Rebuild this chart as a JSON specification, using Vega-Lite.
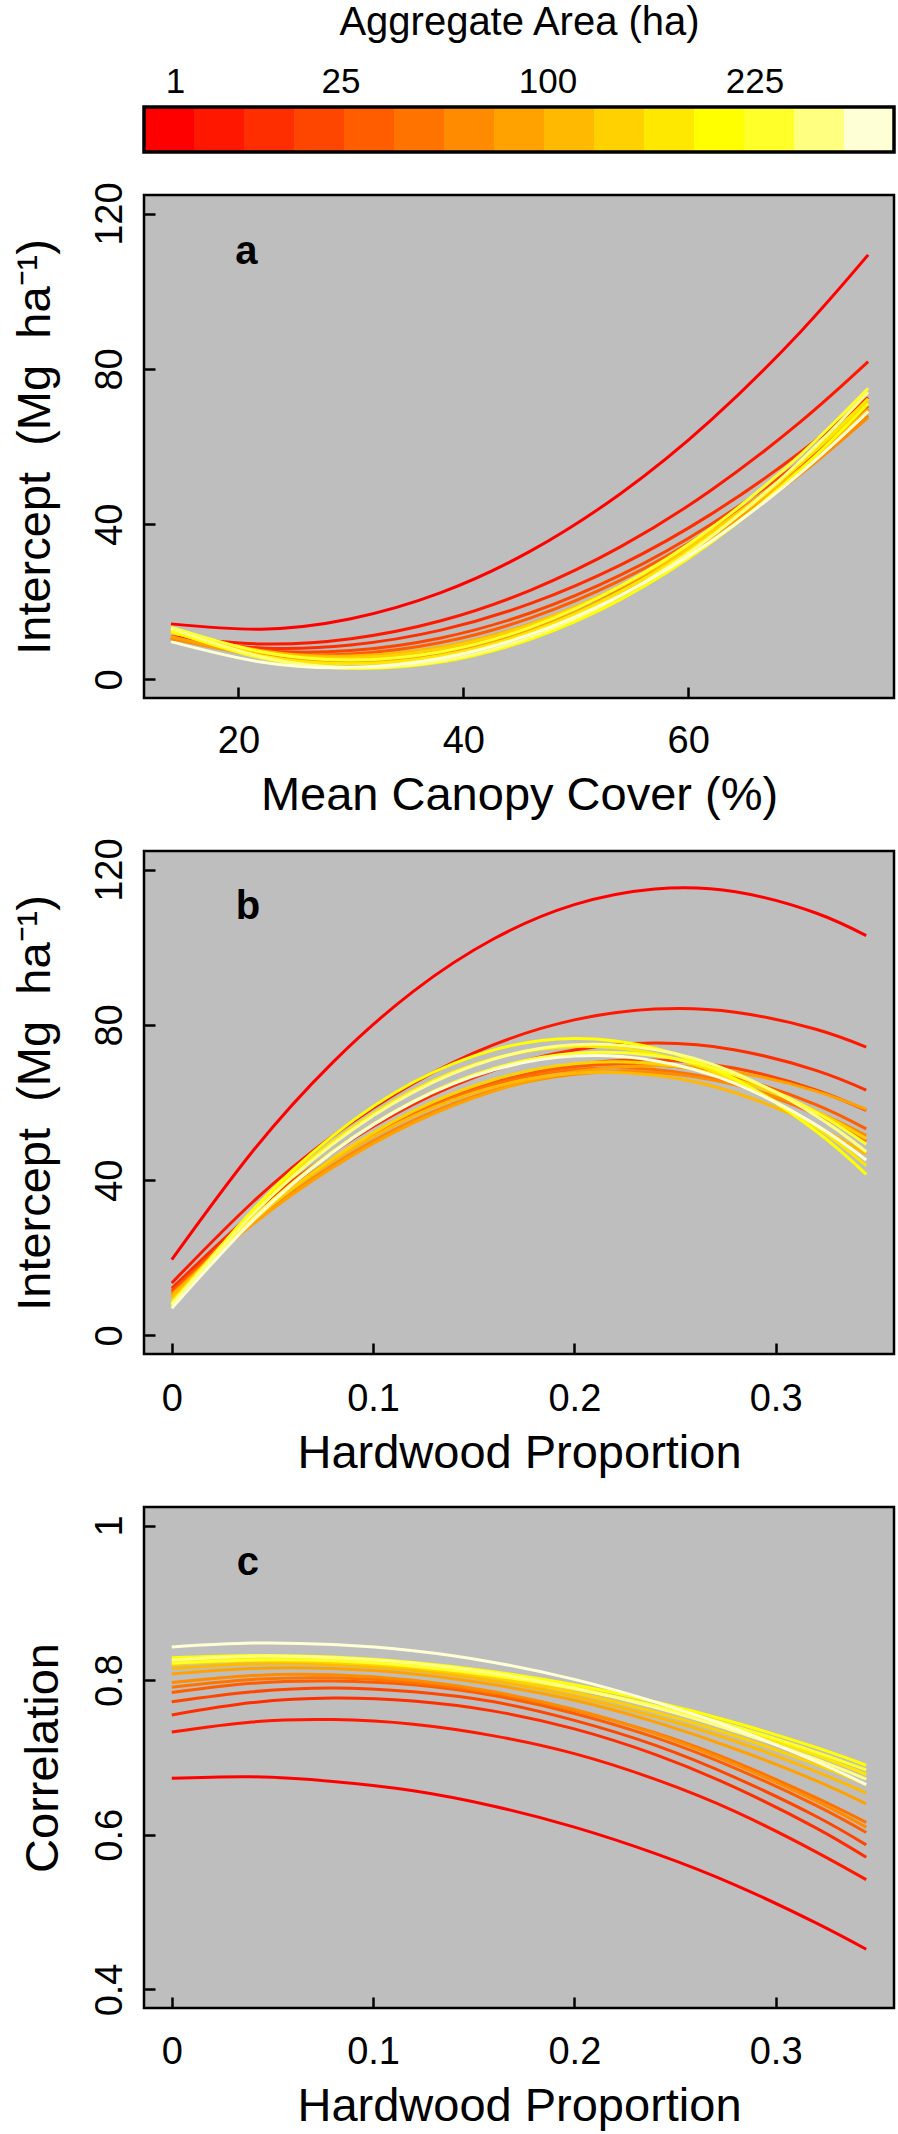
{
"$schema": "https://vega.github.io/schema/vega-lite/v6.json",
"padding": {"left": 9, "top": 2, "right": 6, "bottom": 10},
"background": "white",
"bounds": "flush",
"spacing": 43,
"config": {
 "font": "Liberation Sans",
 "axis": {"labelFont": "Liberation Sans", "titleFont": "Liberation Sans", "labelFontSize": 38, "titleFontSize": 47, "titleFontWeight": "normal", "labelColor": "black", "titleColor": "black", "tickColor": "black", "tickWidth": 2.5, "tickSize": -11, "domain": false, "grid": false, "labelOverlap": false, "labelFlush": false}
},
"datasets": {
 "leg": [
  {"g":1,"area":1},{"g":2,"area":4},{"g":3,"area":9},{"g":4,"area":16},{"g":5,"area":25},{"g":6,"area":36},{"g":7,"area":49},{"g":8,"area":64},{"g":9,"area":81},{"g":10,"area":100},{"g":11,"area":121},{"g":12,"area":144},{"g":13,"area":169},{"g":14,"area":196},{"g":15,"area":225}
 ],
 "pa": [
  {"g":1,"x":14,"y":14.30},{"g":1,"x":22,"y":12.94},{"g":1,"x":30,"y":15.63},{"g":1,"x":38,"y":22.35},{"g":1,"x":46,"y":33.10},{"g":1,"x":54,"y":47.89},{"g":1,"x":62,"y":66.72},{"g":1,"x":70,"y":89.59},{"g":1,"x":76,"y":109.38},
  {"g":2,"x":14,"y":11.06},{"g":2,"x":22,"y":9.13},{"g":2,"x":30,"y":10.48},{"g":2,"x":38,"y":15.11},{"g":2,"x":46,"y":23.02},{"g":2,"x":54,"y":34.20},{"g":2,"x":62,"y":48.66},{"g":2,"x":70,"y":66.39},{"g":2,"x":76,"y":81.85},
  {"g":3,"x":14,"y":10.39},{"g":3,"x":22,"y":8.10},{"g":3,"x":30,"y":8.86},{"g":3,"x":38,"y":12.68},{"g":3,"x":46,"y":19.57},{"g":3,"x":54,"y":29.51},{"g":3,"x":62,"y":42.51},{"g":3,"x":70,"y":58.57},{"g":3,"x":76,"y":72.63},
  {"g":4,"x":14,"y":10.66},{"g":4,"x":22,"y":7.41},{"g":4,"x":30,"y":7.41},{"g":4,"x":38,"y":10.66},{"g":4,"x":46,"y":17.16},{"g":4,"x":54,"y":26.91},{"g":4,"x":62,"y":39.92},{"g":4,"x":70,"y":56.17},{"g":4,"x":76,"y":70.50},
  {"g":5,"x":14,"y":10.76},{"g":5,"x":22,"y":6.96},{"g":5,"x":30,"y":6.54},{"g":5,"x":38,"y":9.49},{"g":5,"x":46,"y":15.83},{"g":5,"x":54,"y":25.55},{"g":5,"x":62,"y":38.64},{"g":5,"x":70,"y":55.11},{"g":5,"x":76,"y":69.69},
  {"g":6,"x":14,"y":10.81},{"g":6,"x":22,"y":6.48},{"g":6,"x":30,"y":5.61},{"g":6,"x":38,"y":8.21},{"g":6,"x":46,"y":14.28},{"g":6,"x":54,"y":23.82},{"g":6,"x":62,"y":36.83},{"g":6,"x":70,"y":53.30},{"g":6,"x":76,"y":67.94},
  {"g":7,"x":14,"y":10.50},{"g":7,"x":22,"y":6.17},{"g":7,"x":30,"y":5.31},{"g":7,"x":38,"y":7.90},{"g":7,"x":46,"y":13.96},{"g":7,"x":54,"y":23.48},{"g":7,"x":62,"y":36.46},{"g":7,"x":70,"y":52.90},{"g":7,"x":76,"y":67.50},
  {"g":8,"x":14,"y":11.05},{"g":8,"x":22,"y":5.93},{"g":8,"x":30,"y":4.53},{"g":8,"x":38,"y":6.86},{"g":8,"x":46,"y":12.91},{"g":8,"x":54,"y":22.69},{"g":8,"x":62,"y":36.19},{"g":8,"x":70,"y":53.42},{"g":8,"x":76,"y":68.78},
  {"g":9,"x":14,"y":12.47},{"g":9,"x":22,"y":7.41},{"g":9,"x":30,"y":6.03},{"g":9,"x":38,"y":8.33},{"g":9,"x":46,"y":14.31},{"g":9,"x":54,"y":23.97},{"g":9,"x":62,"y":37.31},{"g":9,"x":70,"y":54.33},{"g":9,"x":76,"y":69.51},
  {"g":10,"x":14,"y":12.21},{"g":10,"x":22,"y":6.96},{"g":10,"x":30,"y":5.53},{"g":10,"x":38,"y":7.92},{"g":10,"x":46,"y":14.12},{"g":10,"x":54,"y":24.14},{"g":10,"x":62,"y":37.98},{"g":10,"x":70,"y":55.64},{"g":10,"x":76,"y":71.40},
  {"g":11,"x":14,"y":12.26},{"g":11,"x":22,"y":6.07},{"g":11,"x":30,"y":4.00},{"g":11,"x":38,"y":6.07},{"g":11,"x":46,"y":12.26},{"g":11,"x":54,"y":22.59},{"g":11,"x":62,"y":37.05},{"g":11,"x":70,"y":55.65},{"g":11,"x":76,"y":72.30},
  {"g":12,"x":14,"y":12.53},{"g":12,"x":22,"y":5.53},{"g":12,"x":30,"y":2.83},{"g":12,"x":38,"y":4.45},{"g":12,"x":46,"y":10.38},{"g":12,"x":54,"y":20.62},{"g":12,"x":62,"y":35.17},{"g":12,"x":70,"y":54.03},{"g":12,"x":76,"y":71.00},
  {"g":13,"x":14,"y":13.47},{"g":13,"x":22,"y":7.12},{"g":13,"x":30,"y":5.00},{"g":13,"x":38,"y":7.12},{"g":13,"x":46,"y":13.47},{"g":13,"x":54,"y":24.05},{"g":13,"x":62,"y":38.87},{"g":13,"x":70,"y":57.93},{"g":13,"x":76,"y":75.00},
  {"g":14,"x":14,"y":13.13},{"g":14,"x":22,"y":5.84},{"g":14,"x":30,"y":3.04},{"g":14,"x":38,"y":4.72},{"g":14,"x":46,"y":10.89},{"g":14,"x":54,"y":21.55},{"g":14,"x":62,"y":36.69},{"g":14,"x":70,"y":56.33},{"g":14,"x":76,"y":74.00},
  {"g":15,"x":14,"y":9.72},{"g":15,"x":22,"y":4.46},{"g":15,"x":30,"y":3.03},{"g":15,"x":38,"y":5.42},{"g":15,"x":46,"y":11.64},{"g":15,"x":54,"y":21.68},{"g":15,"x":62,"y":35.54},{"g":15,"x":70,"y":53.23},{"g":15,"x":76,"y":69.00}
 ],
 "pb": [
  {"g":1,"x":0,"y":19.5},{"g":1,"x":0.04,"y":47.3},{"g":1,"x":0.08,"y":70.34},{"g":1,"x":0.12,"y":88.64},{"g":1,"x":0.16,"y":102.18},{"g":1,"x":0.2,"y":110.97},{"g":1,"x":0.24,"y":115.01},{"g":1,"x":0.28,"y":114.30},{"g":1,"x":0.32,"y":108.83},{"g":1,"x":0.345,"y":103.00},
  {"g":2,"x":0,"y":13.5},{"g":2,"x":0.04,"y":34.24},{"g":2,"x":0.08,"y":51.39},{"g":2,"x":0.12,"y":64.94},{"g":2,"x":0.16,"y":74.91},{"g":2,"x":0.2,"y":81.28},{"g":2,"x":0.24,"y":84.06},{"g":2,"x":0.28,"y":83.26},{"g":2,"x":0.32,"y":78.86},{"g":2,"x":0.345,"y":74.28},
  {"g":3,"x":0,"y":12.1},{"g":3,"x":0.04,"y":31.41},{"g":3,"x":0.08,"y":47.21},{"g":3,"x":0.12,"y":59.50},{"g":3,"x":0.16,"y":68.28},{"g":3,"x":0.2,"y":73.54},{"g":3,"x":0.24,"y":75.30},{"g":3,"x":0.28,"y":73.54},{"g":3,"x":0.32,"y":68.28},{"g":3,"x":0.345,"y":63.20},
  {"g":4,"x":0,"y":11.5},{"g":4,"x":0.04,"y":30.03},{"g":4,"x":0.08,"y":45.12},{"g":4,"x":0.12,"y":56.75},{"g":4,"x":0.16,"y":64.94},{"g":4,"x":0.2,"y":69.68},{"g":4,"x":0.24,"y":70.97},{"g":4,"x":0.28,"y":68.82},{"g":4,"x":0.32,"y":63.22},{"g":4,"x":0.345,"y":57.96},
  {"g":5,"x":0,"y":11.0},{"g":5,"x":0.04,"y":30.11},{"g":5,"x":0.08,"y":45.50},{"g":5,"x":0.12,"y":57.15},{"g":5,"x":0.16,"y":65.08},{"g":5,"x":0.2,"y":69.27},{"g":5,"x":0.24,"y":69.74},{"g":5,"x":0.28,"y":66.47},{"g":5,"x":0.32,"y":59.48},{"g":5,"x":0.345,"y":53.22},
  {"g":6,"x":0,"y":10.5},{"g":6,"x":0.04,"y":29.84},{"g":6,"x":0.08,"y":45.31},{"g":6,"x":0.12,"y":56.91},{"g":6,"x":0.16,"y":64.65},{"g":6,"x":0.2,"y":68.52},{"g":6,"x":0.24,"y":68.52},{"g":6,"x":0.28,"y":64.65},{"g":6,"x":0.32,"y":56.91},{"g":6,"x":0.345,"y":50.11},
  {"g":7,"x":0,"y":10.0},{"g":7,"x":0.04,"y":28.79},{"g":7,"x":0.08,"y":43.91},{"g":7,"x":0.12,"y":55.37},{"g":7,"x":0.16,"y":63.16},{"g":7,"x":0.2,"y":67.28},{"g":7,"x":0.24,"y":67.74},{"g":7,"x":0.28,"y":64.53},{"g":7,"x":0.32,"y":57.66},{"g":7,"x":0.345,"y":51.50},
  {"g":8,"x":0,"y":10.5},{"g":8,"x":0.04,"y":28.53},{"g":8,"x":0.08,"y":43.28},{"g":8,"x":0.12,"y":54.75},{"g":8,"x":0.16,"y":62.94},{"g":8,"x":0.2,"y":67.86},{"g":8,"x":0.24,"y":69.50},{"g":8,"x":0.28,"y":67.86},{"g":8,"x":0.32,"y":62.94},{"g":8,"x":0.345,"y":58.21},
  {"g":9,"x":0,"y":10.0},{"g":9,"x":0.04,"y":29.51},{"g":9,"x":0.08,"y":45.01},{"g":9,"x":0.12,"y":56.52},{"g":9,"x":0.16,"y":64.02},{"g":9,"x":0.2,"y":67.52},{"g":9,"x":0.24,"y":67.02},{"g":9,"x":0.28,"y":62.52},{"g":9,"x":0.32,"y":54.01},{"g":9,"x":0.345,"y":46.67},
  {"g":10,"x":0,"y":9.0},{"g":10,"x":0.04,"y":29.33},{"g":10,"x":0.08,"y":45.59},{"g":10,"x":0.12,"y":57.79},{"g":10,"x":0.16,"y":65.93},{"g":10,"x":0.2,"y":69.99},{"g":10,"x":0.24,"y":69.99},{"g":10,"x":0.28,"y":65.93},{"g":10,"x":0.32,"y":57.79},{"g":10,"x":0.345,"y":50.65},
  {"g":11,"x":0,"y":8.5},{"g":11,"x":0.04,"y":31.74},{"g":11,"x":0.08,"y":49.96},{"g":11,"x":0.12,"y":63.15},{"g":11,"x":0.16,"y":71.32},{"g":11,"x":0.2,"y":74.46},{"g":11,"x":0.24,"y":72.58},{"g":11,"x":0.28,"y":65.67},{"g":11,"x":0.32,"y":53.73},{"g":11,"x":0.345,"y":43.72},
  {"g":12,"x":0,"y":7.5},{"g":12,"x":0.04,"y":32.17},{"g":12,"x":0.08,"y":51.41},{"g":12,"x":0.12,"y":65.21},{"g":12,"x":0.16,"y":73.57},{"g":12,"x":0.2,"y":76.50},{"g":12,"x":0.24,"y":73.98},{"g":12,"x":0.28,"y":66.03},{"g":12,"x":0.32,"y":52.64},{"g":12,"x":0.345,"y":41.50},
  {"g":13,"x":0,"y":8.0},{"g":13,"x":0.04,"y":29.94},{"g":13,"x":0.08,"y":47.37},{"g":13,"x":0.12,"y":60.31},{"g":13,"x":0.16,"y":68.75},{"g":13,"x":0.2,"y":72.68},{"g":13,"x":0.24,"y":72.12},{"g":13,"x":0.28,"y":67.06},{"g":13,"x":0.32,"y":57.50},{"g":13,"x":0.345,"y":49.24},
  {"g":14,"x":0,"y":8.0},{"g":14,"x":0.04,"y":31.09},{"g":14,"x":0.08,"y":49.32},{"g":14,"x":0.12,"y":62.69},{"g":14,"x":0.16,"y":71.20},{"g":14,"x":0.2,"y":74.85},{"g":14,"x":0.24,"y":73.63},{"g":14,"x":0.28,"y":67.56},{"g":14,"x":0.32,"y":56.62},{"g":14,"x":0.345,"y":47.31},
  {"g":15,"x":0,"y":7.0},{"g":15,"x":0.04,"y":29.44},{"g":15,"x":0.08,"y":47.15},{"g":15,"x":0.12,"y":60.14},{"g":15,"x":0.16,"y":68.41},{"g":15,"x":0.2,"y":71.95},{"g":15,"x":0.24,"y":70.77},{"g":15,"x":0.28,"y":64.87},{"g":15,"x":0.32,"y":54.24},{"g":15,"x":0.345,"y":45.20}
 ],
 "pc": [
  {"g":1,"x":0,"y":0.673},{"g":1,"x":0.04,"y":0.675},{"g":1,"x":0.08,"y":0.669},{"g":1,"x":0.12,"y":0.657},{"g":1,"x":0.16,"y":0.637},{"g":1,"x":0.2,"y":0.610},{"g":1,"x":0.24,"y":0.576},{"g":1,"x":0.28,"y":0.535},{"g":1,"x":0.32,"y":0.486},{"g":1,"x":0.345,"y":0.452},
  {"g":2,"x":0,"y":0.733},{"g":2,"x":0.04,"y":0.746},{"g":2,"x":0.08,"y":0.749},{"g":2,"x":0.12,"y":0.743},{"g":2,"x":0.16,"y":0.728},{"g":2,"x":0.2,"y":0.705},{"g":2,"x":0.24,"y":0.672},{"g":2,"x":0.28,"y":0.630},{"g":2,"x":0.32,"y":0.578},{"g":2,"x":0.345,"y":0.542},
  {"g":3,"x":0,"y":0.755},{"g":3,"x":0.04,"y":0.771},{"g":3,"x":0.08,"y":0.777},{"g":3,"x":0.12,"y":0.773},{"g":3,"x":0.16,"y":0.760},{"g":3,"x":0.2,"y":0.737},{"g":3,"x":0.24,"y":0.704},{"g":3,"x":0.28,"y":0.661},{"g":3,"x":0.32,"y":0.609},{"g":3,"x":0.345,"y":0.571},
  {"g":4,"x":0,"y":0.772},{"g":4,"x":0.04,"y":0.785},{"g":4,"x":0.08,"y":0.790},{"g":4,"x":0.12,"y":0.785},{"g":4,"x":0.16,"y":0.772},{"g":4,"x":0.2,"y":0.748},{"g":4,"x":0.24,"y":0.716},{"g":4,"x":0.28,"y":0.674},{"g":4,"x":0.32,"y":0.624},{"g":4,"x":0.345,"y":0.587},
  {"g":5,"x":0,"y":0.784},{"g":5,"x":0.04,"y":0.796},{"g":5,"x":0.08,"y":0.799},{"g":5,"x":0.12,"y":0.794},{"g":5,"x":0.16,"y":0.780},{"g":5,"x":0.2,"y":0.757},{"g":5,"x":0.24,"y":0.726},{"g":5,"x":0.28,"y":0.686},{"g":5,"x":0.32,"y":0.638},{"g":5,"x":0.345,"y":0.603},
  {"g":6,"x":0,"y":0.791},{"g":6,"x":0.04,"y":0.801},{"g":6,"x":0.08,"y":0.803},{"g":6,"x":0.12,"y":0.797},{"g":6,"x":0.16,"y":0.783},{"g":6,"x":0.2,"y":0.761},{"g":6,"x":0.24,"y":0.732},{"g":6,"x":0.28,"y":0.694},{"g":6,"x":0.32,"y":0.648},{"g":6,"x":0.345,"y":0.616},
  {"g":7,"x":0,"y":0.797},{"g":7,"x":0.04,"y":0.806},{"g":7,"x":0.08,"y":0.807},{"g":7,"x":0.12,"y":0.800},{"g":7,"x":0.16,"y":0.785},{"g":7,"x":0.2,"y":0.762},{"g":7,"x":0.24,"y":0.731},{"g":7,"x":0.28,"y":0.691},{"g":7,"x":0.32,"y":0.644},{"g":7,"x":0.345,"y":0.610},
  {"g":8,"x":0,"y":0.808},{"g":8,"x":0.04,"y":0.815},{"g":8,"x":0.08,"y":0.815},{"g":8,"x":0.12,"y":0.808},{"g":8,"x":0.16,"y":0.794},{"g":8,"x":0.2,"y":0.774},{"g":8,"x":0.24,"y":0.746},{"g":8,"x":0.28,"y":0.711},{"g":8,"x":0.32,"y":0.670},{"g":8,"x":0.345,"y":0.640},
  {"g":9,"x":0,"y":0.815},{"g":9,"x":0.04,"y":0.821},{"g":9,"x":0.08,"y":0.820},{"g":9,"x":0.12,"y":0.813},{"g":9,"x":0.16,"y":0.799},{"g":9,"x":0.2,"y":0.779},{"g":9,"x":0.24,"y":0.753},{"g":9,"x":0.28,"y":0.721},{"g":9,"x":0.32,"y":0.682},{"g":9,"x":0.345,"y":0.654},
  {"g":10,"x":0,"y":0.820},{"g":10,"x":0.04,"y":0.825},{"g":10,"x":0.08,"y":0.823},{"g":10,"x":0.12,"y":0.816},{"g":10,"x":0.16,"y":0.803},{"g":10,"x":0.2,"y":0.784},{"g":10,"x":0.24,"y":0.759},{"g":10,"x":0.28,"y":0.728},{"g":10,"x":0.32,"y":0.691},{"g":10,"x":0.345,"y":0.665},
  {"g":11,"x":0,"y":0.825},{"g":11,"x":0.04,"y":0.829},{"g":11,"x":0.08,"y":0.827},{"g":11,"x":0.12,"y":0.821},{"g":11,"x":0.16,"y":0.808},{"g":11,"x":0.2,"y":0.790},{"g":11,"x":0.24,"y":0.766},{"g":11,"x":0.28,"y":0.737},{"g":11,"x":0.32,"y":0.703},{"g":11,"x":0.345,"y":0.678},
  {"g":12,"x":0,"y":0.829},{"g":12,"x":0.04,"y":0.832},{"g":12,"x":0.08,"y":0.830},{"g":12,"x":0.12,"y":0.823},{"g":12,"x":0.16,"y":0.811},{"g":12,"x":0.2,"y":0.794},{"g":12,"x":0.24,"y":0.772},{"g":12,"x":0.28,"y":0.745},{"g":12,"x":0.32,"y":0.713},{"g":12,"x":0.345,"y":0.690},
  {"g":13,"x":0,"y":0.822},{"g":13,"x":0.04,"y":0.826},{"g":13,"x":0.08,"y":0.825},{"g":13,"x":0.12,"y":0.818},{"g":13,"x":0.16,"y":0.806},{"g":13,"x":0.2,"y":0.789},{"g":13,"x":0.24,"y":0.767},{"g":13,"x":0.28,"y":0.740},{"g":13,"x":0.32,"y":0.707},{"g":13,"x":0.345,"y":0.684},
  {"g":14,"x":0,"y":0.826},{"g":14,"x":0.04,"y":0.831},{"g":14,"x":0.08,"y":0.829},{"g":14,"x":0.12,"y":0.822},{"g":14,"x":0.16,"y":0.809},{"g":14,"x":0.2,"y":0.790},{"g":14,"x":0.24,"y":0.765},{"g":14,"x":0.28,"y":0.734},{"g":14,"x":0.32,"y":0.698},{"g":14,"x":0.345,"y":0.672},
  {"g":15,"x":0,"y":0.843},{"g":15,"x":0.04,"y":0.848},{"g":15,"x":0.08,"y":0.846},{"g":15,"x":0.12,"y":0.838},{"g":15,"x":0.16,"y":0.823},{"g":15,"x":0.2,"y":0.801},{"g":15,"x":0.24,"y":0.772},{"g":15,"x":0.28,"y":0.737},{"g":15,"x":0.32,"y":0.695},{"g":15,"x":0.345,"y":0.665}
 ]
},
"vconcat": [
 {
  "width": 750, "height": 45,
  "view": {"stroke": null},
  "layer": [
   {"data": {"name": "leg"}, "mark": {"type": "rect"},
    "encoding": {
     "x": {"field": "g", "type": "ordinal", "scale": {"paddingInner": 0, "paddingOuter": 0}, "axis": null},
     "color": {"field": "g", "type": "ordinal", "scale": {"domain": [1,2,3,4,5,6,7,8,9,10,11,12,13,14,15], "range": ["#FF0000","#FF1700","#FF2E00","#FF4600","#FF5D00","#FF7400","#FF8B00","#FFA200","#FFB900","#FFD100","#FFE800","#FFFF00","#FFFF2A","#FFFF80","#FFFFD5"]}, "legend": null}
    }},
   {"data": {"name": "leg"}, "mark": {"type": "point", "opacity": 0},
    "encoding": {
     "x": {"field": "area", "type": "quantitative", "scale": {"type": "sqrt", "domain": [0.064, 337.5], "nice": false, "zero": false},
      "axis": {"orient": "top", "values": [1,25,100,225], "ticks": false, "tickSize": 0, "labelFontSize": 35, "labelPadding": 15, "labelBaseline": "alphabetic", "labelAlign": "center", "title": "Aggregate Area (ha)", "titleFontSize": 40, "titleY": -73, "titleBaseline": "alphabetic"}}
    }},
   {"data": {"values": [{}]}, "mark": {"type": "rect", "fill": null, "stroke": "black", "strokeWidth": 3.5}, "encoding": {}}
  ],
  "resolve": {"scale": {"x": "independent"}, "axis": {"x": "independent"}}
 },
 {
  "bounds": "flush",
  "spacing": 153,
  "vconcat": [
   {
    "width": 750, "height": 503,
    "view": {"fill": "#BEBEBE", "stroke": "black", "strokeWidth": 2.5},
    "encoding": {
     "x": {"field": "x", "type": "quantitative", "scale": {"domain": [11.6, 78.3], "nice": false, "zero": false},
      "axis": {"values": [20,40,60], "title": "Mean Canopy Cover (%)", "labelPadding": 65, "labelBaseline": "alphabetic", "titleY": 111, "titleBaseline": "alphabetic"}},
     "y": {"field": "y", "type": "quantitative", "scale": {"domain": [-4.8, 124.8], "nice": false, "zero": false},
      "axis": {"values": [0,40,80,120], "title": "Intercept\u00a0\u00a0(Mg\u00a0\u00a0ha\u207b\u00b9)", "labelAngle": -90, "labelAlign": "center", "labelBaseline": "alphabetic", "labelPadding": 34, "titleX": -95, "titleAngle": -90, "titleAlign": "center", "titleBaseline": "alphabetic"}}
    },
    "layer": [
     {"data": {"name": "pa"}, "mark": {"type": "line", "interpolate": "natural", "strokeWidth": 3},
      "encoding": {
       "color": {"field": "g", "type": "ordinal", "scale": {"domain": [1,2,3,4,5,6,7,8,9,10,11,12,13,14,15], "range": ["#FF0000","#FF1700","#FF2E00","#FF4600","#FF5D00","#FF7400","#FF8B00","#FFA200","#FFB900","#FFD100","#FFE800","#FFFF00","#FFFF2A","#FFFF80","#FFFFD5"]}, "legend": null}
      }},
     {"data": {"values": [{"lab": "a", "x": 20.7, "y": 110}]}, "mark": {"type": "text", "fontWeight": "bold", "fontSize": 40, "font": "Liberation Sans", "color": "black"},
      "encoding": {"text": {"field": "lab"}}}
    ]
   },
   {
    "width": 750, "height": 503,
    "view": {"fill": "#BEBEBE", "stroke": "black", "strokeWidth": 2.5},
    "encoding": {
     "x": {"field": "x", "type": "quantitative", "scale": {"domain": [-0.0138, 0.3588], "nice": false, "zero": false},
      "axis": {"values": [0,0.1,0.2,0.3], "format": "~g", "title": "Hardwood Proportion", "labelPadding": 67, "labelBaseline": "alphabetic", "titleY": 113, "titleBaseline": "alphabetic"}},
     "y": {"field": "y", "type": "quantitative", "scale": {"domain": [-4.8, 124.8], "nice": false, "zero": false},
      "axis": {"values": [0,40,80,120], "title": "Intercept\u00a0\u00a0(Mg\u00a0\u00a0ha\u207b\u00b9)", "labelAngle": -90, "labelAlign": "center", "labelBaseline": "alphabetic", "labelPadding": 34, "titleX": -95, "titleAngle": -90, "titleAlign": "center", "titleBaseline": "alphabetic"}}
    },
    "layer": [
     {"data": {"name": "pb"}, "mark": {"type": "line", "interpolate": "natural", "strokeWidth": 3},
      "encoding": {
       "color": {"field": "g", "type": "ordinal", "scale": {"domain": [1,2,3,4,5,6,7,8,9,10,11,12,13,14,15], "range": ["#FF0000","#FF1700","#FF2E00","#FF4600","#FF5D00","#FF7400","#FF8B00","#FFA200","#FFB900","#FFD100","#FFE800","#FFFF00","#FFFF2A","#FFFF80","#FFFFD5"]}, "legend": null}
      }},
     {"data": {"values": [{"lab": "b", "x": 0.0378, "y": 110.4}]}, "mark": {"type": "text", "fontWeight": "bold", "fontSize": 40, "font": "Liberation Sans", "color": "black"},
      "encoding": {"text": {"field": "lab"}}}
    ]
   },
   {
    "width": 750, "height": 501,
    "view": {"fill": "#BEBEBE", "stroke": "black", "strokeWidth": 2.5},
    "encoding": {
     "x": {"field": "x", "type": "quantitative", "scale": {"domain": [-0.0138, 0.3588], "nice": false, "zero": false},
      "axis": {"values": [0,0.1,0.2,0.3], "format": "~g", "title": "Hardwood Proportion", "labelPadding": 66, "labelBaseline": "alphabetic", "titleY": 112, "titleBaseline": "alphabetic"}},
     "y": {"field": "y", "type": "quantitative", "scale": {"domain": [0.376, 1.024], "nice": false, "zero": false},
      "axis": {"values": [0.4,0.6,0.8,1], "format": "~g", "title": "Correlation", "labelAngle": -90, "labelAlign": "center", "labelBaseline": "alphabetic", "labelPadding": 34, "titleX": -87, "titleAngle": -90, "titleAlign": "center", "titleBaseline": "alphabetic"}}
    },
    "layer": [
     {"data": {"name": "pc"}, "mark": {"type": "line", "interpolate": "natural", "strokeWidth": 3},
      "encoding": {
       "color": {"field": "g", "type": "ordinal", "scale": {"domain": [1,2,3,4,5,6,7,8,9,10,11,12,13,14,15], "range": ["#FF0000","#FF1700","#FF2E00","#FF4600","#FF5D00","#FF7400","#FF8B00","#FFA200","#FFB900","#FFD100","#FFE800","#FFFF00","#FFFF2A","#FFFF80","#FFFFD5"]}, "legend": null}
      }},
     {"data": {"values": [{"lab": "c", "x": 0.0378, "y": 0.952}]}, "mark": {"type": "text", "fontWeight": "bold", "fontSize": 40, "font": "Liberation Sans", "color": "black"},
      "encoding": {"text": {"field": "lab"}}}
    ]
   }
  ]
 }
]
}
